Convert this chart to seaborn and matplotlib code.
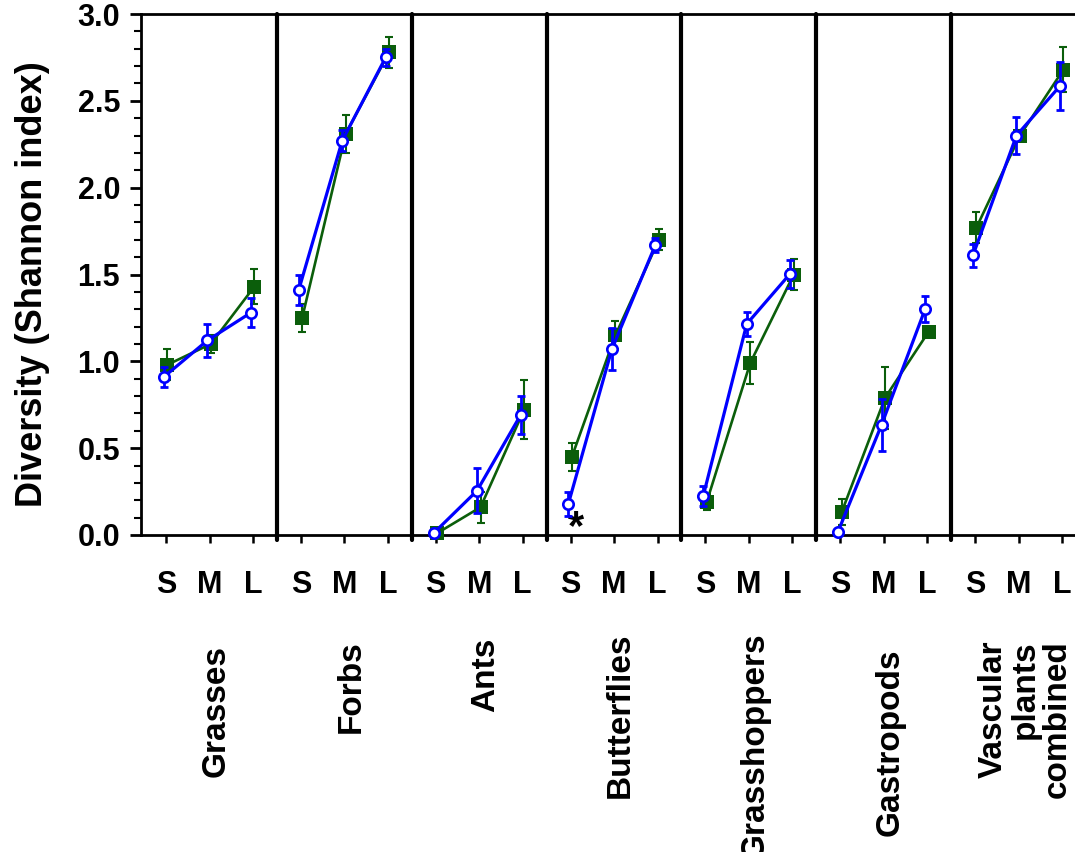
import matplotlib
matplotlib.use("Agg")
import matplotlib.pyplot as plt
import matplotlib.transforms as mtransforms
from matplotlib.ticker import MultipleLocator
import seaborn as sns
import pandas as pd

# data (Shannon diversity, mean +/- error)
groups = ["Grasses", "Forbs", "Ants", "Butterflies", "Grasshoppers",
          "Gastropods", "Vascular\nplants\ncombined"]
sizes = ["S", "M", "L"]

green_mean = [[0.98, 1.10, 1.43],
              [1.25, 2.31, 2.78],
              [0.01, 0.16, 0.72],
              [0.45, 1.15, 1.70],
              [0.19, 0.99, 1.50],
              [0.13, 0.79, 1.17],
              [1.77, 2.30, 2.68]]
green_err = [[0.09, 0.05, 0.10],
             [0.08, 0.11, 0.09],
             [0.01, 0.09, 0.17],
             [0.08, 0.08, 0.06],
             [0.045, 0.12, 0.09],
             [0.075, 0.18, 0.03],
             [0.09, 0.03, 0.13]]

blue_mean = [[0.91, 1.12, 1.28],
             [1.41, 2.27, 2.75],
             [0.01, 0.255, 0.69],
             [0.18, 1.07, 1.67],
             [0.225, 1.215, 1.505],
             [0.02, 0.635, 1.30],
             [1.61, 2.30, 2.585]]
blue_err = [[0.06, 0.095, 0.085],
            [0.085, 0.06, 0.05],
            [0.01, 0.13, 0.11],
            [0.07, 0.12, 0.04],
            [0.06, 0.07, 0.08],
            [0.0, 0.15, 0.075],
            [0.065, 0.105, 0.14]]

# top of each group label (pixels from top of figure)
label_top = [645, 640, 638, 633, 632, 648, 640]

panel_step = 3.1

# long table for plotting
rows = []
for i, g in enumerate(groups):
    for j, s in enumerate(sizes):
        rows.append({"group": g, "size": s, "pos": i * panel_step + j,
                     "series": "green", "mean": green_mean[i][j], "err": green_err[i][j]})
        rows.append({"group": g, "size": s, "pos": i * panel_step + j,
                     "series": "blue", "mean": blue_mean[i][j], "err": blue_err[i][j]})
df = pd.DataFrame(rows)

styles = {
    "green": dict(color="#0b5e0b", marker="s", ms=9.5, mfc="#0b5e0b", mec="#0b5e0b",
                  mew=0, lw=1.9, elw=1.5, offset=0.03, z=3),
    "blue": dict(color="#0000ff", marker="o", ms=7.5, mfc="white", mec="#0000ff",
                 mew=1.9, lw=2.3, elw=2.0, offset=-0.05, z=5),
}

sns.set_style("ticks", {"axes.edgecolor": "black", "xtick.color": "black",
                        "ytick.color": "black", "text.color": "black",
                        "axes.labelcolor": "black"})
plt.rcParams["font.family"] = ["Liberation Sans", "DejaVu Sans"]
plt.rcParams["font.weight"] = "bold"
plt.rcParams["axes.labelweight"] = "bold"

fig = plt.figure(figsize=(10.75, 8.52), dpi=100)
ax = fig.add_axes([141 / 1075, 1 - 535 / 852, 947 / 1075, 521 / 852])

for key in ["green", "blue"]:
    st = styles[key]
    sub = df[df["series"] == key].copy()
    sub["x"] = sub["pos"] + st["offset"]
    ax.errorbar(sub["x"], sub["mean"], yerr=sub["err"], fmt="none",
                ecolor=st["color"], elinewidth=st["elw"], capsize=3,
                capthick=st["elw"], zorder=st["z"] - 1, clip_on=False)
    sns.lineplot(data=sub, x="x", y="mean", units="group", estimator=None,
                 color=st["color"], linewidth=st["lw"], marker=st["marker"],
                 markersize=st["ms"], markerfacecolor=st["mfc"],
                 markeredgecolor=st["mec"], markeredgewidth=st["mew"],
                 zorder=st["z"], legend=False, clip_on=False, ax=ax)

# panel dividers
for i in range(1, len(groups)):
    ax.axvline(i * panel_step - 0.55, ymin=-0.01, ymax=1, color="black",
               lw=3, clip_on=False, zorder=6)

ax.set_xlim(-0.575, -0.575 + 947 / 43.5)
ax.set_ylim(0, 3.0)

ax.set_xticks([i * panel_step + j for i in range(len(groups)) for j in range(3)])
ax.set_xticklabels(sizes * len(groups))
ax.set_yticks([0, 0.5, 1.0, 1.5, 2.0, 2.5, 3.0])
ax.set_yticklabels(["0.0", "0.5", "1.0", "1.5", "2.0", "2.5", "3.0"])
ax.yaxis.set_minor_locator(MultipleLocator(0.1))

ax.tick_params(axis="x", direction="out", length=6, width=1.8, pad=19, labelsize=22)
ax.tick_params(axis="y", which="major", direction="out", length=8, width=2,
               pad=7, labelsize=22)
ax.tick_params(axis="y", which="minor", direction="out", length=5, width=1.5)

for side in ["top", "left", "bottom"]:
    ax.spines[side].set_linewidth(2)
ax.spines["right"].set_visible(False)

ax.set_xlabel("")
ax.set_ylabel("Diversity (Shannon index)", fontsize=26, fontweight="bold")
ax.yaxis.set_label_coords(-0.096, 0.482)

# group names under the panels
trans = mtransforms.blended_transform_factory(ax.transData, fig.transFigure)
for i, g in enumerate(groups):
    ax.text(i * panel_step + 1 + 0.15, 1 - label_top[i] / 852, g,
            transform=trans, rotation=90, ha="center", va="top",
            multialignment="right", linespacing=1.05,
            fontsize=24, fontweight="bold", clip_on=False)

# significance mark for butterflies (small sites)
ax.text(3 * panel_step + 0.12, -0.025, "*", ha="center", va="baseline",
        fontsize=30, fontweight="bold", clip_on=False)

fig.savefig("out.png", dpi=100)
